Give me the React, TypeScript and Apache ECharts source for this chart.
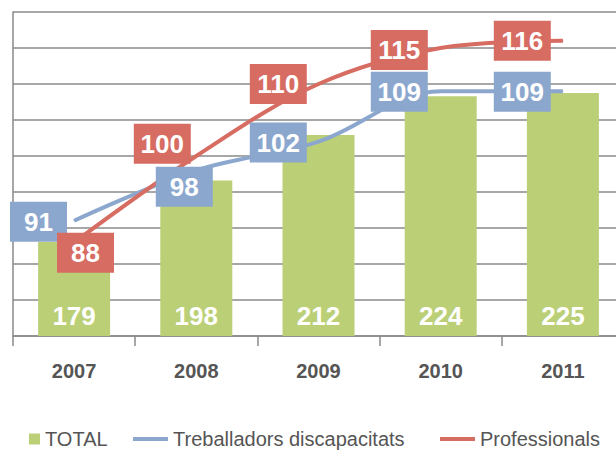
import React, { useEffect, useRef } from "react";
import * as echarts from "echarts";

const categories = ["2007", "2008", "2009", "2010", "2011"];
const totalValues = [179, 198, 212, 224, 225];
const treballadorsValues = [91, 98, 102, 109, 109];
const professionalsValues = [88, 100, 110, 115, 116];

// label placement offsets (styling, not data)
const blueLabelOffsets = [[-35.6, 1], [-12, 16.3], [-40.2, 1], [-41.4, 0.5], [-40.6, 0.5]];
const redLabelOffsets = [[11.4, 10.3], [-34, -12.3], [-40.2, 0], [-41.4, 2], [-40.6, 0]];

const FONT = "'Liberation Sans', Arial, Helvetica, sans-serif";
const GREEN = "#BBCF77";
const BLUE = "#8CA7CE";
const RED = "#D76C63";
const GRID = "#8a8a8a";
const TEXT = "#555555";

const NAMES = ["TOTAL", "Treballadors discapacitats", "Professionals"];

function boxLabel(color: string) {
  return {
    show: true,
    position: "inside",
    formatter: "{c}",
    color: "#ffffff",
    fontFamily: FONT,
    fontSize: 26,
    fontWeight: "bold",
    backgroundColor: color,
    width: 57,
    height: 40,
    lineHeight: 40,
    align: "center",
    verticalAlign: "middle",
  };
}

export default function App() {
  const ref = useRef<HTMLDivElement>(null);
  useEffect(() => {
    if (!ref.current) return;
    const chart = echarts.init(ref.current, null, { renderer: "svg" });
    const legendText = { fontFamily: FONT, fontSize: 20, color: TEXT, lineHeight: 19 };
    chart.setOption({
      animation: false,
      grid: { left: 13, top: 12, width: 611, height: 324, containLabel: false },
      legend: [
        {
          data: [{ name: NAMES[0], icon: "rect" }],
          left: 29, top: 429, itemWidth: 11, itemHeight: 11, padding: 0,
          textStyle: legendText, selectedMode: false,
        },
        {
          data: [{ name: NAMES[1], icon: "rect" }],
          left: 133, top: 429, itemWidth: 35, itemHeight: 4, padding: 0,
          textStyle: legendText, selectedMode: false,
        },
        {
          data: [{ name: NAMES[2], icon: "rect" }],
          left: 440, top: 429, itemWidth: 35, itemHeight: 4, padding: 0,
          textStyle: legendText, selectedMode: false,
        },
      ],
      xAxis: {
        type: "category",
        data: categories,
        boundaryGap: true,
        axisLine: { show: true, lineStyle: { color: GRID, width: 1.5 } },
        axisTick: { show: true, length: 10, interval: 0, lineStyle: { color: GRID, width: 1.5 } },
        axisLabel: { margin: 25, fontFamily: FONT, fontSize: 20, fontWeight: "bold", color: TEXT, interval: 0 },
        splitLine: { show: false },
      },
      yAxis: [
        {
          type: "value",
          min: 150,
          max: 250,
          interval: 10,
          axisLine: { show: true, lineStyle: { color: GRID, width: 1.5 } },
          axisTick: { show: false },
          axisLabel: { show: false },
          splitLine: { show: false },
        },
        {
          type: "value",
          min: 75,
          max: 120,
          interval: 5,
          position: "right",
          axisLine: { show: false },
          axisTick: { show: false },
          axisLabel: { show: false },
          splitLine: { show: true, lineStyle: { color: GRID, width: 1.5 } },
        },
      ],
      series: [
        {
          name: NAMES[0],
          type: "bar",
          yAxisIndex: 0,
          data: totalValues,
          barWidth: 72,
          silent: true,
          itemStyle: { color: GREEN },
          label: {
            show: true,
            position: "insideBottom",
            distance: 7,
            color: "#ffffff",
            fontFamily: FONT,
            fontSize: 26,
            fontWeight: "bold",
          },
        },
        {
          name: NAMES[1],
          type: "line",
          yAxisIndex: 1,
          smooth: 0.35,
          symbol: "circle",
          symbolSize: 1,
          silent: true,
          itemStyle: { color: BLUE },
          lineStyle: { color: BLUE, width: 4 },
          label: boxLabel(BLUE),
          data: treballadorsValues.map((v, i) => ({ value: v, label: { offset: blueLabelOffsets[i] } })),
        },
        {
          name: NAMES[2],
          type: "line",
          yAxisIndex: 1,
          smooth: 0.35,
          symbol: "circle",
          symbolSize: 1,
          silent: true,
          itemStyle: { color: RED },
          lineStyle: { color: RED, width: 4 },
          label: boxLabel(RED),
          data: professionalsValues.map((v, i) => ({ value: v, label: { offset: redLabelOffsets[i] } })),
        },
      ],
    });
    return () => chart.dispose();
  }, []);
  return (
    <div style={{ position: "fixed", left: 0, top: 0, width: 616, height: 451, overflow: "hidden", background: "#fff" }}>
      <div ref={ref} style={{ width: 630, height: 451 }} />
    </div>
  );
}
